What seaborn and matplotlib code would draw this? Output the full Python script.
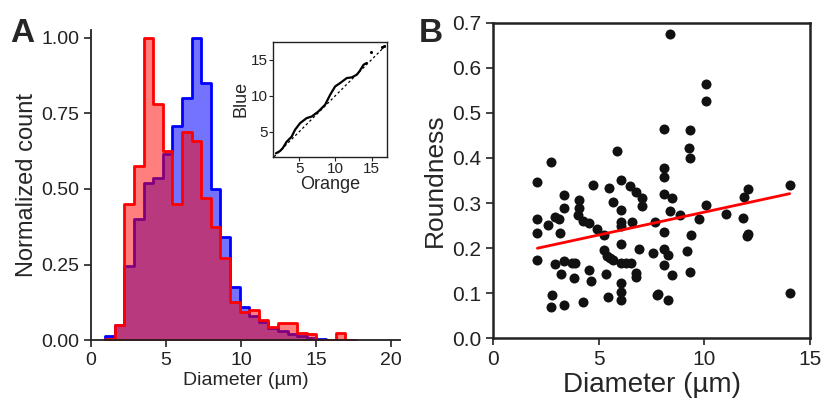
import numpy as np
import pandas as pd
import matplotlib
matplotlib.use("Agg")
import matplotlib.pyplot as plt
import seaborn as sns

# panel A: normalized size histograms (bins 0.64 um wide, first edge 0.95 um)
bin_start = 0.95
bin_width = 0.64
blue_counts = [0.012, 0.05, 0.245, 0.40, 0.52, 0.535, 0.615, 0.71, 0.80, 1.0,
               0.85, 0.50, 0.34, 0.177, 0.108, 0.08, 0.06, 0.04, 0.03, 0.02,
               0.012, 0.006, 0.004, 0.0, 0.0, 0.0]
orange_counts = [0.005, 0.05, 0.45, 0.575, 1.0, 0.78, 0.625, 0.45, 0.69, 0.66,
                 0.47, 0.375, 0.27, 0.127, 0.094, 0.10, 0.066, 0.044, 0.055, 0.055,
                 0.024, 0.02, 0.0, 0.0, 0.022, 0.0]

# inset: quantile-quantile curve
qq_orange = [1.76, 2.32, 2.69, 3.25, 3.94, 4.4, 5.1, 6.0, 6.72, 7.64, 8.57, 9.26,
             9.96, 10.65, 11.58, 12.27, 12.97, 13.34, 13.9, 14.35]
qq_blue = [1.98, 2.3, 2.68, 3.6, 4.3, 5.24, 6.17, 6.87, 7.1, 7.8, 8.73, 10.1,
           11.28, 11.75, 12.45, 12.54, 12.92, 13.4, 14.3, 14.55]
qq_tail_orange = [14.96, 16.4, 16.76]
qq_tail_blue = [16.1, 16.7, 16.97]

# panel B: roundness vs diameter
diameter = [2.10, 2.75, 2.10, 2.10, 2.10, 2.59, 2.94, 3.10, 3.19, 3.38, 3.38, 2.80,
            2.75, 3.38, 2.94, 3.22, 3.36, 3.73, 3.89, 3.81, 4.08, 4.08, 4.00, 4.25,
            4.56, 4.91, 4.25, 4.56, 4.64, 4.75, 5.23, 5.23, 5.39, 5.55, 5.70, 5.36,
            5.45, 5.47, 5.67, 5.86, 6.07, 6.07, 6.07, 6.07, 6.07, 6.07, 6.30, 6.54,
            6.07, 6.07, 6.07, 6.46, 6.57, 6.76, 7.05, 7.05, 6.75, 6.77, 6.93, 7.57,
            7.65, 7.76,
            8.36, 10.06, 10.06, 8.07, 9.30, 9.27, 9.30, 8.07, 8.07, 8.07, 8.47, 8.36,
            8.83, 10.06, 9.73, 11.04, 11.83, 11.90, 12.05, 12.04, 12.06, 14.04, 14.04,
            8.07, 9.38, 8.07, 8.28, 9.18, 8.07, 8.47, 9.30, 7.83, 8.28]
roundness = [0.346, 0.390, 0.264, 0.234, 0.174, 0.251, 0.268, 0.264, 0.234, 0.318, 0.290, 0.097,
             0.070, 0.073, 0.164, 0.142, 0.172, 0.166, 0.166, 0.134, 0.306, 0.288, 0.273, 0.260,
             0.256, 0.243, 0.080, 0.151, 0.127, 0.340, 0.230, 0.195, 0.183, 0.177, 0.173, 0.142,
             0.091, 0.334, 0.302, 0.415, 0.350, 0.285, 0.258, 0.250, 0.210, 0.166, 0.168, 0.168,
             0.122, 0.103, 0.085, 0.338, 0.257, 0.324, 0.312, 0.293, 0.144, 0.137, 0.199, 0.189,
             0.258, 0.097,
             0.675, 0.565, 0.527, 0.465, 0.463, 0.422, 0.400, 0.377, 0.358, 0.319, 0.312, 0.282,
             0.273, 0.295, 0.265, 0.275, 0.267, 0.313, 0.332, 0.226, 0.232, 0.341, 0.100,
             0.236, 0.229, 0.197, 0.184, 0.194, 0.162, 0.140, 0.146, 0.098, 0.086]

sns.set_style("ticks")
plt.rcParams["font.family"] = ["Liberation Sans Narrow", "Liberation Sans", "DejaVu Sans"]
plt.rcParams["axes.edgecolor"] = "#222222"
plt.rcParams["xtick.color"] = "#222222"
plt.rcParams["ytick.color"] = "#222222"

fig = plt.figure(figsize=(8.25, 4.01), dpi=100)
axA = fig.add_axes([0.1103, 0.152, 0.3745, 0.773])
axB = fig.add_axes([0.5976, 0.1564, 0.3842, 0.787])
axIn = fig.add_axes([0.3313, 0.609, 0.1374, 0.287])

# --- panel A
edges = [bin_start + bin_width * k for k in range(len(blue_counts) + 1)]
centers = [e + bin_width / 2 for e in edges[:-1]]
hist = pd.DataFrame({"d": centers, "blue": blue_counts, "orange": orange_counts})
sns.histplot(data=hist, x="d", weights="blue", bins=edges, element="step", fill=True,
             color="blue", alpha=0.55, linewidth=2, ax=axA)
sns.histplot(data=hist, x="d", weights="orange", bins=edges, element="step", fill=True,
             color="red", alpha=0.5, linewidth=2, ax=axA)
axA.set_xlim(0, 20.6)
axA.set_ylim(0, 1.026)
axA.set_xticks([0, 5, 10, 15, 20])
axA.set_yticks([0, 0.25, 0.5, 0.75, 1.0])
axA.set_yticklabels(["0.00", "0.25", "0.50", "0.75", "1.00"])
axA.tick_params(labelsize=14, width=1.2, length=5)
axA.set_xlabel("Diameter (µm)", fontsize=14, labelpad=2)
axA.set_ylabel("Normalized count", fontsize=17, labelpad=2)
sns.despine(ax=axA)
for s in axA.spines.values():
    s.set_linewidth(1.3)

# --- inset
sns.lineplot(x=qq_orange, y=qq_blue, sort=False, color="black", linewidth=1.6, ax=axIn)
sns.scatterplot(x=qq_tail_orange, y=qq_tail_blue, color="black", s=5, linewidth=0, ax=axIn)
axIn.axline((0, 0), slope=1, color="black", linestyle=(0, (2, 2)), linewidth=0.9)
axIn.set_xlim(1.4, 17.1)
axIn.set_ylim(1.5, 17.5)
axIn.set_xticks([5, 10, 15])
axIn.set_yticks([5, 10, 15])
axIn.tick_params(labelsize=11, length=3, pad=1)
axIn.set_xlabel("Orange", fontsize=13, labelpad=0)
axIn.set_ylabel("Blue", fontsize=13, labelpad=1)
for s in axIn.spines.values():
    s.set_linewidth(1.0)

# --- panel B
sns.regplot(x=diameter, y=roundness, ci=None, ax=axB,
            scatter_kws=dict(s=52, color="#111111", linewidths=0, alpha=1),
            line_kws=dict(color="red", linewidth=2))
axB.set_xlim(0, 15)
axB.set_ylim(0, 0.7)
axB.set_xticks([0, 5, 10, 15])
axB.set_yticks(np.arange(0, 0.71, 0.1))
axB.set_yticklabels([f"{v:.1f}" for v in np.arange(0, 0.71, 0.1)])
axB.tick_params(labelsize=15, width=1.2, length=5)
axB.set_xlabel("Diameter (µm)", fontsize=20, labelpad=2)
axB.set_ylabel("Roundness", fontsize=19, labelpad=4)
for s in axB.spines.values():
    s.set_linewidth(1.8)

fig.text(0.012, 0.895, "A", fontsize=24, weight="bold", family=["Liberation Sans", "DejaVu Sans"])
fig.text(0.508, 0.895, "B", fontsize=24, weight="bold", family=["Liberation Sans", "DejaVu Sans"])

fig.savefig("out.png", dpi=100)
